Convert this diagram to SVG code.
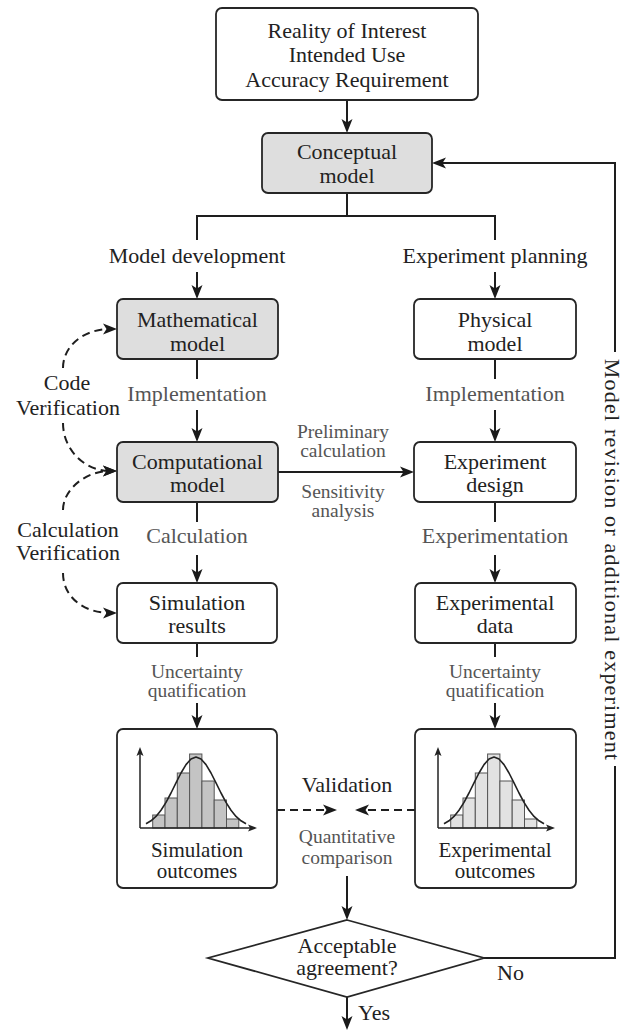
<svg xmlns="http://www.w3.org/2000/svg" width="623" height="1031" viewBox="0 0 623 1031" font-family="Liberation Serif">
<defs>
<marker id="ah" markerUnits="userSpaceOnUse" markerWidth="14" markerHeight="12" viewBox="0 0 14 12" refX="7" refY="6" orient="auto">
<path d="M0,0.5 L14,6 L0,11.5 L3.5,6 Z" fill="#1a1a1a"/>
</marker>
<marker id="ax" markerUnits="userSpaceOnUse" markerWidth="9" markerHeight="8" viewBox="0 0 9 8" refX="4" refY="4" orient="auto">
<path d="M0,0.5 L9,4 L0,7.5 L2,4 Z" fill="#222"/>
</marker>
<style>
.box{stroke:#262626;stroke-width:1.8;fill:#fff}
.gray{fill:#dedede}
text{font-family:'Liberation Serif','Times New Roman',serif}
.t{font-size:22px;text-anchor:middle;fill:#222}
.l{fill:#555}
.sm{font-size:19.5px}
.md{font-size:21px}
.s{text-anchor:start}
.c{fill:none;stroke:#1e1e1e;stroke-width:2}
.a{marker-end:url(#ah)}
.d{stroke-dasharray:8 5}
.axis{fill:none;stroke:#222;stroke-width:1.5;marker-end:url(#ax)}
.bar{stroke:#555;stroke-width:1}
.bl{fill:#c4c4c4}
.br{fill:#e2e2e2}
.curve{fill:none;stroke:#222;stroke-width:1.6;stroke-linejoin:round}
</style>
</defs>
<rect width="623" height="1031" fill="#fff"/>

<g id="connectors">
<line class="c a" x1="347" y1="100" x2="347" y2="126"/>
<path class="c" d="M347,193 V216 M197,216 H495 M197,215 V240 M495,215 V240"/>
<line class="c a" x1="197" y1="272" x2="197" y2="292"/>
<line class="c a" x1="495" y1="272" x2="495" y2="292"/>
<line class="c" x1="197" y1="359" x2="197" y2="379"/>
<line class="c a" x1="197" y1="410" x2="197" y2="435"/>
<line class="c" x1="495" y1="359" x2="495" y2="379"/>
<line class="c a" x1="495" y1="410" x2="495" y2="435"/>
<line class="c a" x1="278" y1="472" x2="407" y2="472"/>
<line class="c" x1="197" y1="502" x2="197" y2="522"/>
<line class="c a" x1="197" y1="555" x2="197" y2="576"/>
<line class="c" x1="495" y1="502" x2="495" y2="522"/>
<line class="c a" x1="495" y1="555" x2="495" y2="576"/>
<line class="c" x1="197" y1="643" x2="197" y2="657"/>
<line class="c a" x1="197" y1="703" x2="197" y2="722"/>
<line class="c" x1="495" y1="643" x2="495" y2="657"/>
<line class="c a" x1="495" y1="703" x2="495" y2="722"/>
<line class="c a d" x1="277" y1="810" x2="330" y2="810"/>
<line class="c a d" x1="415" y1="810" x2="362" y2="810"/>
<line class="c a" x1="347" y1="876" x2="347" y2="913"/>
<line class="c a" x1="347" y1="997" x2="347" y2="1023"/>
<path class="c" d="M484,958 H615 V766"/>
<path class="c a" d="M615,352 V163 H439"/>
<path class="c a d" d="M63,368 C63,345 85,329 110,329"/>
<path class="c a d" d="M63,423 C63,450 85,471 110,471"/>
<path class="c a d" d="M63,510 C63,490 85,471 110,471"/>
<path class="c a d" d="M63,573 C63,598 85,613 110,613"/>
</g>

<g id="labels">
<text class="t" x="197" y="263" fill="#333">Model development</text>
<text class="t" x="495" y="263">Experiment planning</text>
<text class="t l" x="197" y="401">Implementation</text>
<text class="t l" x="495" y="401">Implementation</text>
<text class="t l sm" x="343" y="438">Preliminary</text>
<text class="t l sm" x="343" y="457">calculation</text>
<text class="t l sm" x="343" y="498">Sensitivity</text>
<text class="t l sm" x="343" y="517">analysis</text>
<text class="t l" x="197" y="543">Calculation</text>
<text class="t l" x="495" y="543">Experimentation</text>
<text class="t l sm" x="197" y="678">Uncertainty</text>
<text class="t l sm" x="197" y="697">quatification</text>
<text class="t l sm" x="495" y="678">Uncertainty</text>
<text class="t l sm" x="495" y="697">quatification</text>
<text class="t" x="347" y="792">Validation</text>
<text class="t l sm" x="347" y="843">Quantitative</text>
<text class="t l sm" x="347" y="864">comparison</text>
<text class="t" x="67" y="390">Code</text>
<text class="t" x="68" y="415">Verification</text>
<text class="t" x="68" y="537">Calculation</text>
<text class="t" x="68" y="560">Verification</text>
<text class="t s" x="358" y="1020">Yes</text>
<text class="t s" x="497" y="980">No</text>
<text class="t" x="605" y="560" letter-spacing="1.2" transform="rotate(90 605 560)">Model revision or additional experiment</text>
</g>

<g id="n-requirements">
<rect class="box" x="216" y="8" width="262" height="92" rx="6"/>
<text class="t" x="347" y="38">Reality of Interest</text>
<text class="t" x="347" y="62">Intended Use</text>
<text class="t" x="347" y="87">Accuracy Requirement</text>
</g>

<g id="n-conceptual">
<rect class="box gray" x="262" y="133" width="170" height="60" rx="6"/>
<text class="t" x="347" y="159">Conceptual</text>
<text class="t" x="347" y="183">model</text>
</g>

<g id="n-mathematical">
<rect class="box gray" x="117" y="299" width="161" height="60" rx="6"/>
<text class="t" x="197.5" y="327">Mathematical</text>
<text class="t" x="197.5" y="351">model</text>
</g>

<g id="n-physical">
<rect class="box" x="414" y="299" width="162" height="60" rx="6"/>
<text class="t" x="495" y="327">Physical</text>
<text class="t" x="495" y="351">model</text>
</g>

<g id="n-computational">
<rect class="box gray" x="117" y="442" width="161" height="60" rx="6"/>
<text class="t" x="197.5" y="469">Computational</text>
<text class="t" x="197.5" y="492">model</text>
</g>

<g id="n-expdesign">
<rect class="box" x="414" y="442" width="162" height="60" rx="6"/>
<text class="t" x="495" y="469">Experiment</text>
<text class="t" x="495" y="492">design</text>
</g>

<g id="n-simresults">
<rect class="box" x="117" y="583" width="160" height="60" rx="6"/>
<text class="t" x="197" y="610">Simulation</text>
<text class="t" x="197" y="633">results</text>
</g>

<g id="n-expdata">
<rect class="box" x="415" y="583" width="161" height="60" rx="6"/>
<text class="t" x="495" y="610">Experimental</text>
<text class="t" x="495" y="633">data</text>
</g>

<g id="n-simoutcomes">
<rect class="box" x="117" y="729" width="160" height="159" rx="6"/>
<g class="bar bl">
<rect x="152.7" y="815" width="12.3" height="13"/>
<rect x="165" y="798" width="12.3" height="30"/>
<rect x="177.3" y="773" width="12.3" height="55"/>
<rect x="189.6" y="754" width="12.3" height="74"/>
<rect x="201.9" y="781" width="12.3" height="47"/>
<rect x="214.2" y="800" width="12.3" height="28"/>
<rect x="226.5" y="819" width="12.3" height="9"/>
</g>
<polyline class="curve" points="146,823.8 151,820.8 156,816.4 161,810.3 166,802.4 171,793 176,782.9 181,773 186,764.6 191,759 196,757 201,759 206,764.6 211,773 216,782.9 221,793 226,802.4 231,810.3 236,816.4 241,820.8 246,823.8"/>
<path class="axis" d="M140,828 V752"/>
<path class="axis" d="M140,828 H252"/>
<text class="t md" x="197" y="857">Simulation</text>
<text class="t md" x="197" y="878">outcomes</text>
</g>

<g id="n-expoutcomes">
<rect class="box" x="415" y="729" width="161" height="159" rx="6"/>
<g class="bar br">
<rect x="450.7" y="815" width="12.3" height="13"/>
<rect x="463" y="798" width="12.3" height="30"/>
<rect x="475.3" y="773" width="12.3" height="55"/>
<rect x="487.6" y="754" width="12.3" height="74"/>
<rect x="499.9" y="781" width="12.3" height="47"/>
<rect x="512.2" y="800" width="12.3" height="28"/>
<rect x="524.5" y="819" width="12.3" height="9"/>
</g>
<polyline class="curve" points="444,823.8 449,820.8 454,816.4 459,810.3 464,802.4 469,793 474,782.9 479,773 484,764.6 489,759 494,757 499,759 504,764.6 509,773 514,782.9 519,793 524,802.4 529,810.3 534,816.4 539,820.8 544,823.8"/>
<path class="axis" d="M438,828 V752"/>
<path class="axis" d="M438,828 H550"/>
<text class="t md" x="495" y="857">Experimental</text>
<text class="t md" x="495" y="878">outcomes</text>
</g>

<g id="n-decision">
<polygon points="347,920 484,958 347,997 208,958" fill="#fff" stroke="#262626" stroke-width="1.8"/>
<text class="t" x="347" y="953">Acceptable</text>
<text class="t" x="347" y="975">agreement?</text>
</g>
</svg>
